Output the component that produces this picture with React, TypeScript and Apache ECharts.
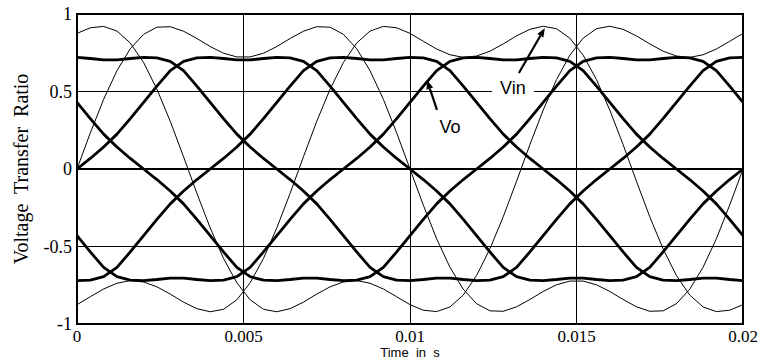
import React, { useEffect, useRef } from "react";
import * as echarts from "echarts";

// Sample instants (s), one every 0.4 ms over one 50 Hz period
const timeS = [
  0, 0.0004, 0.0008, 0.0012, 0.0016, 0.002, 0.0024, 0.0028, 0.0032, 0.0036,
  0.004, 0.0044, 0.0048, 0.0052, 0.0056, 0.006, 0.0064, 0.0068, 0.0072, 0.0076,
  0.008, 0.0084, 0.0088, 0.0092, 0.0096, 0.01, 0.0104, 0.0108, 0.0112, 0.0116,
  0.012, 0.0124, 0.0128, 0.0132, 0.0136, 0.014, 0.0144, 0.0148, 0.0152, 0.0156,
  0.016, 0.0164, 0.0168, 0.0172, 0.0176, 0.018, 0.0184, 0.0188, 0.0192, 0.0196,
  0.02,
];

// Three-phase input voltages (thin traces)
const vinA = [
  0, 0.233, 0.45, 0.634, 0.776, 0.869, 0.915, 0.918, 0.889, 0.842,
  0.79, 0.747, 0.723, 0.723, 0.747, 0.79, 0.842, 0.889, 0.918, 0.915,
  0.869, 0.776, 0.634, 0.45, 0.233, 0, -0.233, -0.45, -0.634, -0.776,
  -0.869, -0.915, -0.918, -0.889, -0.842, -0.79, -0.747, -0.723, -0.723, -0.747,
  -0.79, -0.842, -0.889, -0.918, -0.915, -0.869, -0.776, -0.634, -0.45, -0.233,
  0,
];
const vinB = [
  -0.875, -0.824, -0.774, -0.737, -0.72, -0.729, -0.76, -0.807, -0.859, -0.901,
  -0.921, -0.905, -0.844, -0.734, -0.577, -0.38, -0.157, 0.079, 0.308, 0.515,
  0.687, 0.813, 0.89, 0.92, 0.911, 0.875, 0.824, 0.774, 0.737, 0.72,
  0.729, 0.76, 0.807, 0.859, 0.901, 0.921, 0.905, 0.844, 0.734, 0.577,
  0.38, 0.157, -0.079, -0.308, -0.515, -0.687, -0.813, -0.89, -0.92, -0.911,
  -0.875,
];
const vinC = [
  0.875, 0.911, 0.92, 0.89, 0.813, 0.687, 0.515, 0.308, 0.079, -0.157,
  -0.38, -0.577, -0.734, -0.844, -0.905, -0.921, -0.901, -0.859, -0.807, -0.76,
  -0.729, -0.72, -0.737, -0.774, -0.824, -0.875, -0.911, -0.92, -0.89, -0.813,
  -0.687, -0.515, -0.308, -0.079, 0.157, 0.38, 0.577, 0.734, 0.844, 0.905,
  0.921, 0.901, 0.859, 0.807, 0.76, 0.729, 0.72, 0.737, 0.774, 0.824,
  0.875,
];

// Five-phase output voltages (thick traces)
const vo1 = [
  0, 0.068, 0.142, 0.225, 0.325, 0.43, 0.535, 0.635, 0.695, 0.717,
  0.72, 0.713, 0.704, 0.704, 0.713, 0.72, 0.717, 0.695, 0.635, 0.535,
  0.43, 0.325, 0.225, 0.142, 0.068, 0, -0.068, -0.142, -0.225, -0.325,
  -0.43, -0.535, -0.635, -0.695, -0.717, -0.72, -0.713, -0.704, -0.704, -0.713,
  -0.72, -0.717, -0.695, -0.635, -0.535, -0.43, -0.325, -0.225, -0.142, -0.068,
  0,
];
const vo2 = [
  -0.72, -0.717, -0.695, -0.635, -0.535, -0.43, -0.325, -0.225, -0.142, -0.068,
  0, 0.068, 0.142, 0.225, 0.325, 0.43, 0.535, 0.635, 0.695, 0.717,
  0.72, 0.713, 0.704, 0.704, 0.713, 0.72, 0.717, 0.695, 0.635, 0.535,
  0.43, 0.325, 0.225, 0.142, 0.068, 0, -0.068, -0.142, -0.225, -0.325,
  -0.43, -0.535, -0.635, -0.695, -0.717, -0.72, -0.713, -0.704, -0.704, -0.713,
  -0.72,
];
const vo3 = [
  -0.43, -0.535, -0.635, -0.695, -0.717, -0.72, -0.713, -0.704, -0.704, -0.713,
  -0.72, -0.717, -0.695, -0.635, -0.535, -0.43, -0.325, -0.225, -0.142, -0.068,
  0, 0.068, 0.142, 0.225, 0.325, 0.43, 0.535, 0.635, 0.695, 0.717,
  0.72, 0.713, 0.704, 0.704, 0.713, 0.72, 0.717, 0.695, 0.635, 0.535,
  0.43, 0.325, 0.225, 0.142, 0.068, 0, -0.068, -0.142, -0.225, -0.325,
  -0.43,
];
const vo4 = [
  0.43, 0.325, 0.225, 0.142, 0.068, 0, -0.068, -0.142, -0.225, -0.325,
  -0.43, -0.535, -0.635, -0.695, -0.717, -0.72, -0.713, -0.704, -0.704, -0.713,
  -0.72, -0.717, -0.695, -0.635, -0.535, -0.43, -0.325, -0.225, -0.142, -0.068,
  0, 0.068, 0.142, 0.225, 0.325, 0.43, 0.535, 0.635, 0.695, 0.717,
  0.72, 0.713, 0.704, 0.704, 0.713, 0.72, 0.717, 0.695, 0.635, 0.535,
  0.43,
];
const vo5 = [
  0.72, 0.713, 0.704, 0.704, 0.713, 0.72, 0.717, 0.695, 0.635, 0.535,
  0.43, 0.325, 0.225, 0.142, 0.068, 0, -0.068, -0.142, -0.225, -0.325,
  -0.43, -0.535, -0.635, -0.695, -0.717, -0.72, -0.713, -0.704, -0.704, -0.713,
  -0.72, -0.717, -0.695, -0.635, -0.535, -0.43, -0.325, -0.225, -0.142, -0.068,
  0, 0.068, 0.142, 0.225, 0.325, 0.43, 0.535, 0.635, 0.695, 0.717,
  0.72,
];

const inputSeries = [vinA, vinB, vinC];
const outputSeries = [vo1, vo2, vo3, vo4, vo5];

// Callouts, anchored in data coordinates [time, ratio]
const callouts = [
  { label: "Vin", text: [0.01309, 0.522], tail: [0.01327, 0.619], tip: [0.01405, 0.91], box: true },
  { label: "Vo", text: [0.0112, 0.271], tail: [0.01081, 0.381], tip: [0.01051, 0.574], box: false },
];

const toPairs = (ys: number[]) => timeS.map((t, i) => [t, ys[i]]);

export default function App() {
  const ref = useRef<HTMLDivElement>(null);

  useEffect(() => {
    if (!ref.current) return;
    const chart = echarts.init(ref.current, null, { renderer: "svg" });

    const lineSeries = (ys: number[], width: number) => ({
      type: "line",
      data: toPairs(ys),
      symbol: "none",
      showSymbol: false,
      silent: true,
      color: "#000",
      lineStyle: { color: "#000", width },
      emphasis: { disabled: true },
      z: 2,
    });

    chart.setOption({
      animation: false,
      backgroundColor: "#fff",
      grid: {
        left: 77,
        right: 19,
        top: 14,
        bottom: 38,
        containLabel: false,
        outerBoundsMode: "none",
        show: true,
        borderColor: "#000",
        borderWidth: 2,
      },
      xAxis: {
        type: "value",
        min: 0,
        max: 0.02,
        interval: 0.005,
        name: "Time  in  s",
        nameLocation: "middle",
        nameGap: 22,
        nameMoveOverlap: false,
        nameTextStyle: { fontFamily: "Liberation Sans", fontSize: 13, lineHeight: 13, color: "#000" },
        axisLine: { show: true, lineStyle: { color: "#000", width: 2 } },
        axisTick: { show: false },
        axisLabel: {
          fontFamily: "Liberation Serif",
          fontSize: 17,
          lineHeight: 14,
          color: "#000",
          margin: 5,
        },
        splitLine: { show: true, lineStyle: { color: "#000", width: 1 } },
      },
      yAxis: {
        type: "value",
        min: -1,
        max: 1,
        interval: 0.5,
        name: "Voltage  Transfer  Ratio",
        nameLocation: "middle",
        nameRotate: 90,
        nameGap: 46,
        nameMoveOverlap: false,
        nameTextStyle: { fontFamily: "Liberation Serif", fontSize: 20, color: "#000" },
        axisLine: { show: true, lineStyle: { color: "#000", width: 2 } },
        axisTick: { show: false },
        axisLabel: { fontFamily: "Liberation Serif", fontSize: 18, color: "#000", margin: 5 },
        splitLine: { show: true, lineStyle: { color: "#000", width: 1 } },
      },
      series: [
        ...inputSeries.map((ys) => lineSeries(ys, 1)),
        ...outputSeries.map((ys) => lineSeries(ys, 2.8)),
      ],
    });

    const toPx = (p: number[]) => chart.convertToPixel({ gridIndex: 0 }, p) as number[];
    const graphics: any[] = [];
    callouts.forEach((c) => {
      const [tx, ty] = toPx(c.text);
      const [ax, ay] = toPx(c.tail);
      const [bx, by] = toPx(c.tip);
      const dx = bx - ax;
      const dy = by - ay;
      const len = Math.hypot(dx, dy);
      const ux = dx / len;
      const uy = dy / len;
      const headLen = 9;
      const headHalf = 3.5;
      const baseX = bx - ux * headLen;
      const baseY = by - uy * headLen;
      if (c.box) {
        graphics.push({
          type: "rect",
          shape: { x: tx - 21, y: ty - 8, width: 42, height: 16 },
          style: { fill: "#fff" },
          z: 1,
          silent: true,
        });
      }
      graphics.push({
        type: "text",
        x: tx,
        y: ty,
        style: {
          text: c.label,
          font: '18px "Liberation Sans"',
          fill: "#000",
          align: "center",
          verticalAlign: "middle",
        },
        z: 5,
        silent: true,
      });
      graphics.push({
        type: "line",
        shape: { x1: ax, y1: ay, x2: baseX, y2: baseY },
        style: { stroke: "#000", lineWidth: 2.2 },
        z: 5,
        silent: true,
      });
      graphics.push({
        type: "polygon",
        shape: {
          points: [
            [bx, by],
            [baseX - uy * headHalf, baseY + ux * headHalf],
            [baseX + uy * headHalf, baseY - ux * headHalf],
          ],
        },
        style: { fill: "#000" },
        z: 5,
        silent: true,
      });
    });
    chart.setOption({ graphic: graphics });

    return () => chart.dispose();
  }, []);

  return (
    <div
      ref={ref}
      style={{ position: "fixed", left: 0, top: 0, width: 762, height: 362, background: "#fff" }}
    />
  );
}
